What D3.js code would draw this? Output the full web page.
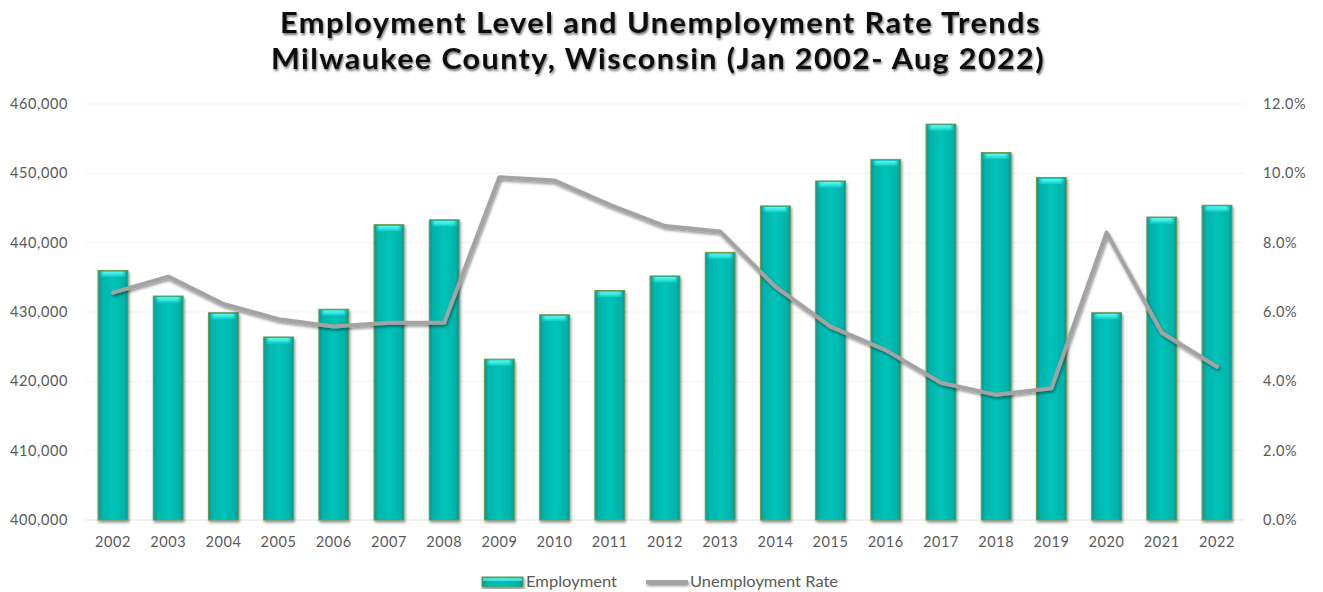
<!DOCTYPE html>
<html>
<head>
<meta charset="utf-8">
<script src="https://cdn.jsdelivr.net/npm/d3@7"></script>
<style>
  html, body { margin: 0; padding: 0; background: #fff; }
  svg { display: block; font-family: Lato, "Open Sans", sans-serif; }
</style>
</head>
<body>
<svg id="chart" width="1323" height="592"></svg>
<script>
// Annual figures, Milwaukee County
const years = ["2002","2003","2004","2005","2006","2007","2008","2009","2010","2011","2012",
               "2013","2014","2015","2016","2017","2018","2019","2020","2021","2022"];
const employment = [436000, 432300, 429900, 426400, 430400, 442600, 443300, 423200, 429600, 433100, 435200,
                    438600, 445300, 448900, 452000, 457100, 453000, 449400, 429900, 443700, 445400];
const unemploymentRate = [6.56, 7.02, 6.23, 5.79, 5.58, 5.69, 5.69, 9.89, 9.79, 9.09, 8.48,
                          8.32, 6.73, 5.58, 4.90, 3.96, 3.61, 3.80, 8.29, 5.40, 4.42];
const leftTicks = [400000, 410000, 420000, 430000, 440000, 450000, 460000];
const rightTicks = [0, 2, 4, 6, 8, 10, 12];
const titleLines = ["Employment Level and Unemployment Rate Trends",
                    "Milwaukee County, Wisconsin (Jan 2002- Aug 2022)"];

const svg = d3.select("#chart");
const plot = { left: 85.4, right: 1244.6, top: 104, bottom: 520 };

const x = d3.scaleBand().domain(years).range([plot.left, plot.right])
  .paddingInner(0.46).paddingOuter(0.23);
const yL = d3.scaleLinear().domain([400000, 460000]).range([plot.bottom, plot.top]);
const yR = d3.scaleLinear().domain([0, 12]).range([plot.bottom, plot.top]);

// gradients and filters
const defs = svg.append("defs");
const body = defs.append("linearGradient").attr("id", "barBody").attr("x1", 0).attr("x2", 1).attr("y1", 0).attr("y2", 0);
[[0, "#08968e"], [0.12, "#03b3aa"], [0.5, "#00c3b9"], [0.88, "#03b3aa"], [1, "#08968e"]]
  .forEach(([o, c]) => body.append("stop").attr("offset", o).attr("stop-color", c));
const cap = defs.append("linearGradient").attr("id", "barCap").attr("x1", 0).attr("x2", 0).attr("y1", 0).attr("y2", 1);
[[0, "#5ff7ef"], [0.5, "#35e6df"], [1, "#00c3b9"]]
  .forEach(([o, c]) => cap.append("stop").attr("offset", o).attr("stop-color", c));
const capH = defs.append("linearGradient").attr("id", "capMask").attr("x1", 0).attr("x2", 1).attr("y1", 0).attr("y2", 0);
[[0, "#000"], [0.18, "#fff"], [0.82, "#fff"], [1, "#000"]]
  .forEach(([o, c]) => capH.append("stop").attr("offset", o).attr("stop-color", c));
defs.append("mask").attr("id", "capFade").attr("maskContentUnits", "objectBoundingBox")
  .append("rect").attr("width", 1).attr("height", 1).attr("fill", "url(#capMask)");

function dropShadow(id, std, dx, dy, alpha, userSpace) {
  const f = defs.append("filter").attr("id", id);
  if (userSpace) {
    f.attr("filterUnits", "userSpaceOnUse").attr("x", 0).attr("y", 0).attr("width", 1323).attr("height", 592);
  } else {
    f.attr("x", "-20%").attr("y", "-20%").attr("width", "140%").attr("height", "140%");
  }
  f.append("feGaussianBlur").attr("in", "SourceAlpha").attr("stdDeviation", std).attr("result", "b");
  f.append("feOffset").attr("in", "b").attr("dx", dx).attr("dy", dy).attr("result", "o");
  f.append("feComponentTransfer").attr("in", "o").attr("result", "s")
    .append("feFuncA").attr("type", "linear").attr("slope", alpha);
  const m = f.append("feMerge");
  m.append("feMergeNode").attr("in", "s");
  m.append("feMergeNode").attr("in", "SourceGraphic");
}
dropShadow("shadow", 1.4, 1.2, 1.6, 0.45, false);
dropShadow("shadowUS", 1.4, 1.2, 1.6, 0.45, true);
dropShadow("titleShadow", 1.3, 1, 1.5, 0.55, true);

const soft = defs.append("filter").attr("id", "soft");
soft.append("feGaussianBlur").attr("stdDeviation", 0.45);

// faint horizontal gridlines
svg.append("g").selectAll("line").data(leftTicks).join("line")
  .attr("x1", plot.left).attr("x2", plot.right)
  .attr("y1", d => yL(d)).attr("y2", d => yL(d))
  .attr("stroke", d => d === 400000 ? "#e4e4e4" : "#f3f3f3").attr("stroke-width", 1);

// title
const titleSpans = [[280, 1041], [271, 1045]];
const title = svg.append("g").attr("filter", "url(#titleShadow)");
title.selectAll("text").data(titleLines).join("text")
  .attr("x", (d, i) => titleSpans[i][0]).attr("y", (d, i) => 33 + i * 36)
  .attr("textLength", (d, i) => titleSpans[i][1] - titleSpans[i][0])
  .attr("lengthAdjust", "spacingAndGlyphs")
  .attr("font-size", 28).attr("font-weight", 700)
  .attr("letter-spacing", 1.3)
  .attr("fill", "#111")
  .text(d => d);

const tickStyle = s => s.attr("font-size", 14.5).attr("letter-spacing", 0.6)
  .attr("fill", "#595959").attr("font-family", "Lato, sans-serif");

// axes
const axisLeft = d3.axisLeft(yL).tickValues(leftTicks).tickSize(0).tickPadding(0)
  .tickFormat(d3.format(","));
svg.append("g").attr("transform", "translate(68,0)").call(axisLeft)
  .call(g => g.select(".domain").remove())
  .selectAll("text").call(tickStyle);

const axisRight = d3.axisRight(yR).tickValues(rightTicks).tickSize(0).tickPadding(0)
  .tickFormat(d => d3.format(".1f")(d) + "%");
svg.append("g").attr("transform", "translate(1263,0)").call(axisRight)
  .call(g => g.select(".domain").remove())
  .selectAll("text").call(tickStyle);

const axisBottom = d3.axisBottom(x).tickSize(0).tickPadding(0);
svg.append("g").attr("transform", "translate(0,537)").call(axisBottom)
  .call(g => g.select(".domain").remove())
  .selectAll("text").call(tickStyle);

// bars
const bars = svg.append("g").attr("filter", "url(#soft)");
const barG = bars.selectAll("g.bar").data(years.map((yr, i) => ({ yr, v: employment[i] })))
  .join("g").attr("class", "bar");
barG.append("rect")
  .attr("x", d => x(d.yr)).attr("width", x.bandwidth())
  .attr("y", d => yL(d.v)).attr("height", d => yL(400000) - yL(d.v))
  .attr("fill", "url(#barBody)")
  .attr("stroke", "#6f9a52").attr("stroke-width", 1)
  .attr("filter", "url(#shadow)");
barG.append("rect")
  .attr("x", d => x(d.yr) + 1).attr("width", x.bandwidth() - 2)
  .attr("y", d => yL(d.v) + 1).attr("height", 6)
  .attr("fill", "url(#barCap)").attr("mask", "url(#capFade)");

// unemployment rate line
const line = d3.line().x((d, i) => x(years[i]) + x.bandwidth() / 2).y(d => yR(d));
svg.append("path").datum(unemploymentRate)
  .attr("d", line)
  .attr("fill", "none").attr("stroke", "#a3a3a3").attr("stroke-width", 4)
  .attr("stroke-linejoin", "round").attr("stroke-linecap", "round")
  .attr("filter", "url(#shadowUS)");

// legend
const legend = svg.append("g").attr("font-size", 14.5).attr("fill", "#595959");
legend.append("rect").attr("x", 482).attr("y", 577).attr("width", 41).attr("height", 10)
  .attr("fill", "url(#barBody)").attr("stroke", "#6f9a52").attr("stroke-width", 1).attr("filter", "url(#shadow)");
legend.append("rect").attr("x", 483).attr("y", 578).attr("width", 39).attr("height", 3)
  .attr("fill", "#5ff7ef").attr("opacity", 0.7);
legend.append("text").attr("x", 526).attr("y", 587)
  .attr("textLength", 91).attr("lengthAdjust", "spacingAndGlyphs").text("Employment");
legend.append("line").attr("x1", 646).attr("x2", 688).attr("y1", 582).attr("y2", 582)
  .attr("stroke", "#a3a3a3").attr("stroke-width", 4).attr("filter", "url(#shadowUS)");
legend.append("text").attr("x", 690).attr("y", 587)
  .attr("textLength", 148).attr("lengthAdjust", "spacingAndGlyphs").text("Unemployment Rate");
</script>
</body>
</html>
